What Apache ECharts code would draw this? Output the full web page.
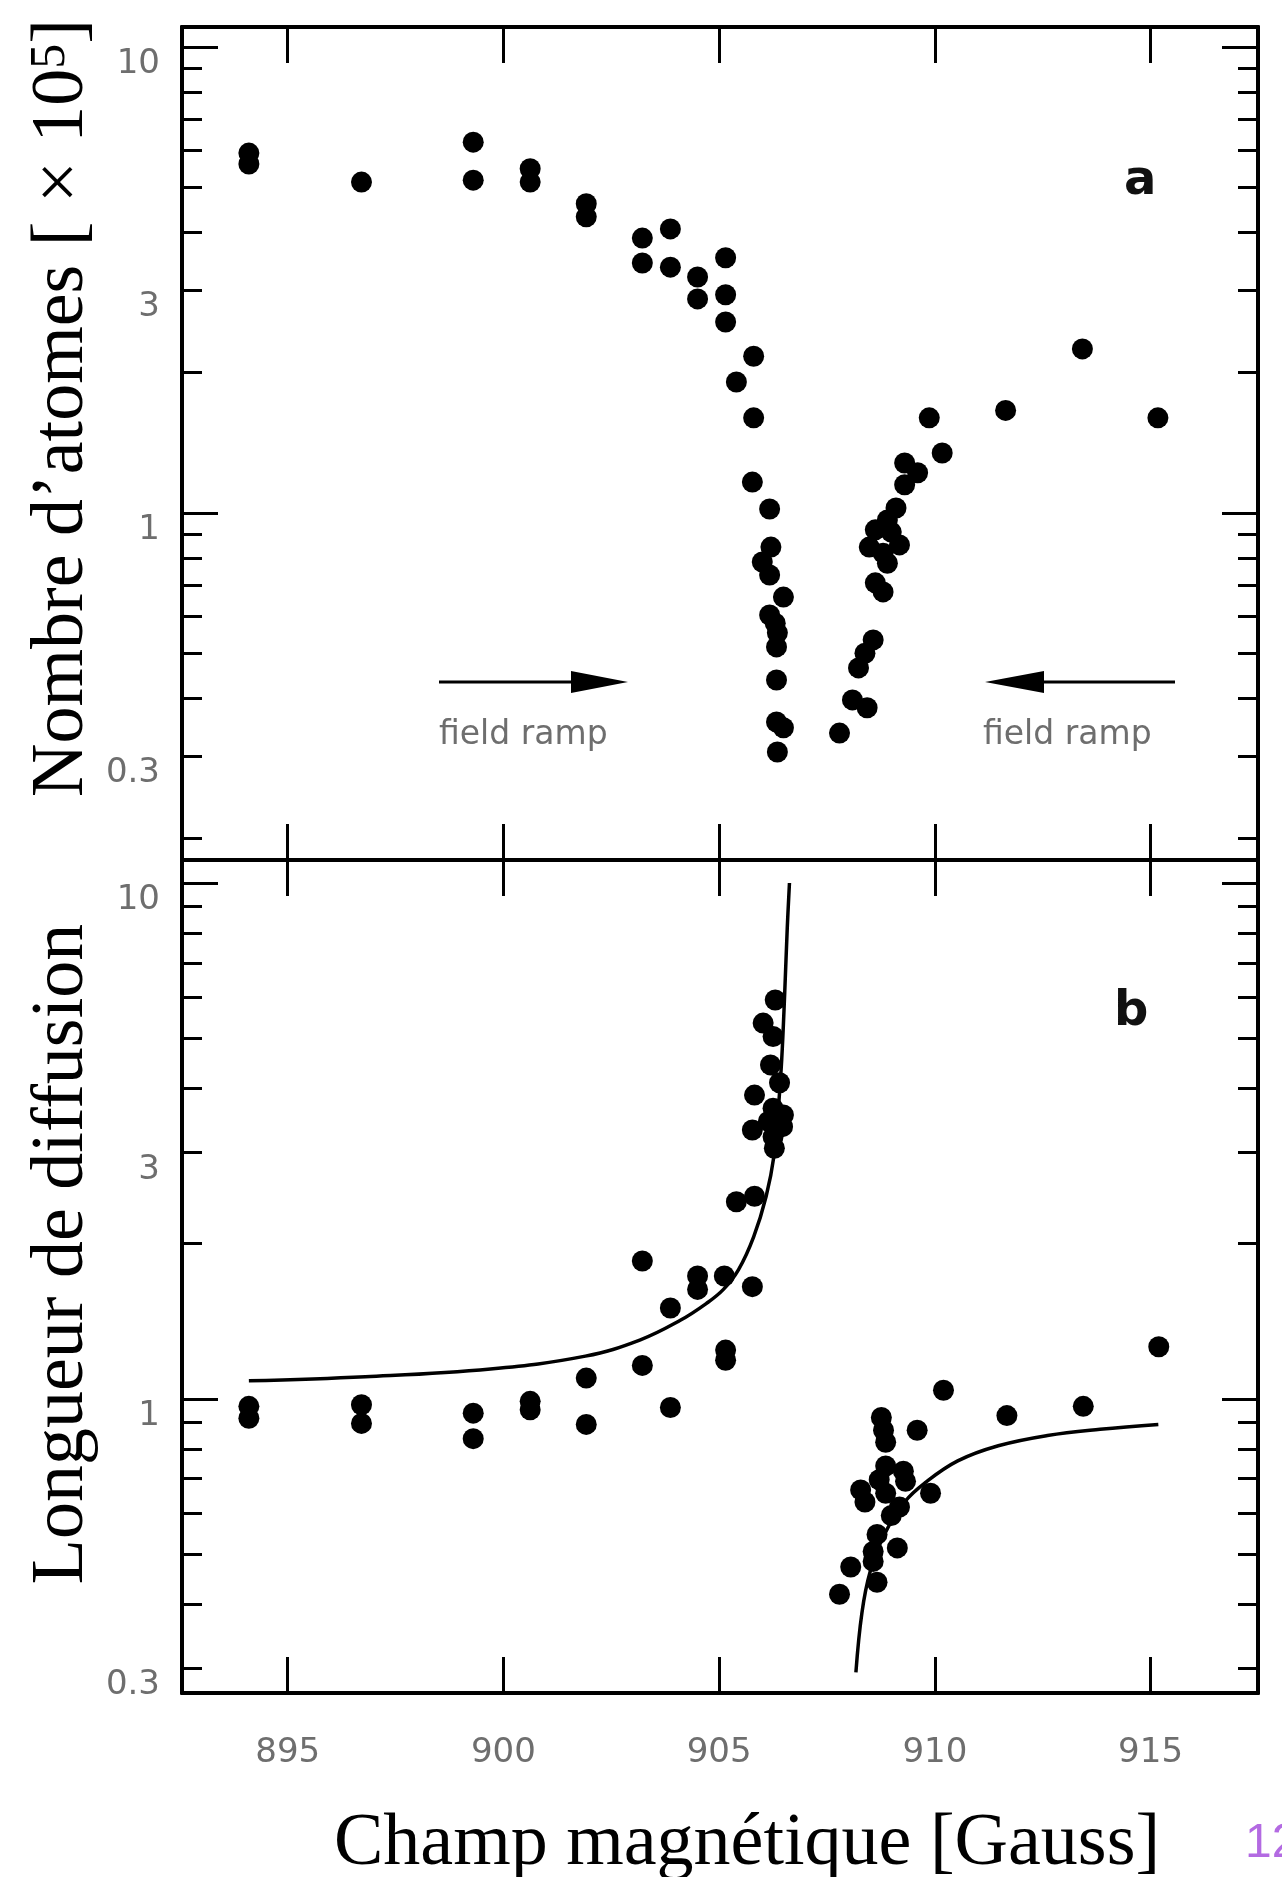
<!DOCTYPE html>
<html><head><meta charset="utf-8">
<script src="https://cdn.jsdelivr.net/npm/echarts@6/dist/echarts.min.js"></script>
<style>html,body{margin:0;padding:0;background:#fff}#c{width:1282px;height:1877px}</style>
</head><body><div id="c"></div>
<script>
// ---- data ----
const xTicks = [895, 900, 905, 910, 915];
const yLabels = [0.3, 1, 3, 10];
const yMajor = [1, 10];
const yMinorTop = [0.2,0.3,0.4,0.5,0.6,0.7,0.8,0.9,2,3,4,5,6,7,8,9];
const yMinorBot = [0.3,0.4,0.5,0.6,0.7,0.8,0.9,2,3,4,5,6,7,8,9];

// panel a : Nombre d'atomes
const aX = [894.1,894.1,896.71,899.3,899.3,900.62,900.62,901.92,901.92,903.22,903.22,903.87,903.87,904.5,904.5,905.15,905.15,905.15,905.8,905.4,905.8,905.77,906.17,906.2,906.0,906.17,906.49,906.17,906.3,906.35,906.33,906.33,906.33,906.49,906.35,907.79,908.09,908.43,908.23,908.38,908.57,908.62,908.8,908.9,908.8,908.48,909.18,908.62,908.99,908.9,909.1,909.3,909.6,909.3,910.17,909.87,911.64,913.42,915.17];
const aY = [5.92,5.61,5.13,6.25,5.18,5.48,5.13,4.61,4.32,3.89,3.44,4.07,3.37,3.21,2.88,3.53,2.94,2.57,2.17,1.91,1.60,1.165,1.02,0.845,0.785,0.736,0.66,0.604,0.58,0.553,0.516,0.438,0.356,0.346,0.307,0.337,0.397,0.382,0.465,0.50,0.534,0.708,0.677,0.78,0.82,0.845,0.854,0.92,0.91,0.966,1.025,1.15,1.22,1.28,1.345,1.60,1.66,2.25,1.60];

// panel b : Longueur de diffusion
const bX = [894.1,894.1,896.71,896.71,899.3,899.3,900.62,900.62,901.92,901.92,903.22,903.22,903.87,903.87,904.5,904.5,905.12,905.15,905.15,905.77,905.4,905.82,906.28,906.25,905.77,906.47,906.14,906.49,906.25,905.82,906.4,906.19,906.25,906.02,906.3,907.79,908.05,908.57,908.57,908.66,909.13,908.66,908.99,909.18,908.38,908.86,908.28,909.9,908.71,909.32,908.86,909.27,908.86,908.81,909.59,908.76,910.2,911.67,913.44,915.19];
const bY = [0.967,0.917,0.974,0.896,0.938,0.837,0.989,0.952,1.097,0.892,1.85,1.161,1.50,0.962,1.73,1.63,1.73,1.243,1.188,1.65,2.41,2.47,3.06,3.22,3.32,3.37,3.45,3.55,3.66,3.88,4.10,4.44,5.04,5.35,5.93,0.418,0.472,0.506,0.484,0.441,0.514,0.546,0.594,0.617,0.631,0.656,0.666,0.656,0.697,0.692,0.741,0.724,0.824,0.869,0.869,0.920,1.039,0.928,0.967,1.262];

// fitted curves
const fitLX = [894.1,896.8,899.7,901.9,903.16,904.1,904.7,905.1,905.45,905.8,906.09,906.28,906.37,906.45,906.52,906.58,906.63];
const fitLY = [1.084,1.104,1.143,1.21,1.30,1.42,1.53,1.63,1.78,2.06,2.47,2.99,3.63,4.54,6.12,8.22,10.0];
const fitRX = [908.17,908.31,908.5,908.83,909.3,909.77,910.53,911.47,912.61,913.83,915.18];
const fitRY = [0.295,0.385,0.462,0.546,0.631,0.687,0.758,0.811,0.849,0.873,0.892];

const pairs = (xs, ys) => xs.map((x, i) => [x, ys[i]]);

// ---- styling ----
const LBL = { color: '#6e6e6e', fontFamily: 'DejaVu Sans', fontSize: 34 };
const AXL = { show: true, lineStyle: { color: '#000', width: 4 } };
const XMIN = 892.55, XMAX = 917.49;

function xAx(grid, pos, labels) {
  return {
    type: 'value', gridIndex: grid, position: pos, min: XMIN, max: XMAX,
    axisLine: AXL, splitLine: { show: false },
    axisTick: { show: true, inside: true, length: 36, customValues: xTicks, lineStyle: { color: '#000', width: 3 } },
    axisLabel: labels ? Object.assign({ show: true, margin: 43, customValues: xTicks }, LBL) : { show: false }
  };
}
function yAx(grid, pos, min, max, ticks, len, labels) {
  return {
    type: 'log', logBase: 10, gridIndex: grid, position: pos, min: min, max: max, offset: 0,
    axisLine: AXL, splitLine: { show: false }, minorTick: { show: false },
    axisTick: { show: true, inside: true, length: len, customValues: ticks, lineStyle: { color: '#000', width: 3 } },
    axisLabel: labels ? Object.assign({
      show: true, margin: 22, customValues: yLabels, verticalAlign: 'top',
      formatter: v => String(Number((+v).toPrecision(3)))
    }, LBL) : { show: false }
  };
}

const chart = echarts.init(document.getElementById('c'), null, { renderer: 'canvas' });
const option = {
  backgroundColor: '#fff',
  animation: false,
  grid: [
    { left: 182, right: 24, top: 27, height: 833 },
    { left: 182, right: 24, top: 860, height: 833 }
  ],
  xAxis: [xAx(0, 'bottom', false), xAx(0, 'top', false), xAx(1, 'bottom', true), xAx(1, 'top', false)],
  yAxis: [
    yAx(0, 'left', 0.18, 11.04, yMajor, 36, true),
    yAx(0, 'left', 0.18, 11.04, yMinorTop, 20, false),
    yAx(0, 'right', 0.18, 11.04, yMajor, 36, false),
    yAx(0, 'right', 0.18, 11.04, yMinorTop, 20, false),
    yAx(1, 'left', 0.269, 11.08, yMajor, 36, true),
    yAx(1, 'left', 0.269, 11.08, yMinorBot, 20, false),
    yAx(1, 'right', 0.269, 11.08, yMajor, 36, false),
    yAx(1, 'right', 0.269, 11.08, yMinorBot, 20, false)
  ],
  series: [
    { type: 'scatter', xAxisIndex: 0, yAxisIndex: 0, data: pairs(aX, aY), symbol: 'circle', symbolSize: 21, itemStyle: { color: '#000', opacity: 1 } },
    { type: 'scatter', xAxisIndex: 2, yAxisIndex: 4, data: pairs(bX, bY), symbol: 'circle', symbolSize: 21, itemStyle: { color: '#000', opacity: 1 } },
    { type: 'line', xAxisIndex: 2, yAxisIndex: 4, data: pairs(fitLX, fitLY), smooth: 0.4, showSymbol: false, symbol: 'none', lineStyle: { color: '#000', width: 3.5 } },
    { type: 'line', xAxisIndex: 2, yAxisIndex: 4, data: pairs(fitRX, fitRY), smooth: 0.4, showSymbol: false, symbol: 'none', lineStyle: { color: '#000', width: 3.5 } }
  ],
  graphic: [
    // arrows
    { type: 'line', shape: { x1: 439, y1: 682, x2: 575, y2: 682 }, style: { stroke: '#000', lineWidth: 3 } },
    { type: 'polygon', shape: { points: [[571, 671], [628, 682], [571, 693]] }, style: { fill: '#000' } },
    { type: 'line', shape: { x1: 1040, y1: 682, x2: 1175, y2: 682 }, style: { stroke: '#000', lineWidth: 3 } },
    { type: 'polygon', shape: { points: [[1044, 671], [985, 682], [1044, 693]] }, style: { fill: '#000' } },
    { type: 'text', x: 439, y: 735, style: { text: 'field ramp', fill: '#6e6e6e', font: '33px "DejaVu Sans"', align: 'left', verticalAlign: 'middle' } },
    { type: 'text', x: 983, y: 735, style: { text: 'field ramp', fill: '#6e6e6e', font: '33px "DejaVu Sans"', align: 'left', verticalAlign: 'middle' } },
    // panel letters
    { type: 'text', x: 1124, y: 182, style: { text: 'a', fill: '#111', font: 'bold 48px "DejaVu Sans"', align: 'left', verticalAlign: 'middle' } },
    { type: 'text', x: 1114, y: 1013, style: { text: 'b', fill: '#111', font: 'bold 48px "DejaVu Sans"', align: 'left', verticalAlign: 'middle' } },
    // axis titles
    { type: 'text', x: 747, y: 1845, style: { text: 'Champ magnétique [Gauss]', fill: '#000', font: '74px "Liberation Serif"', align: 'center', verticalAlign: 'middle' } },
    { type: 'text', x: 63, y: 1254, rotation: Math.PI / 2, style: { text: 'Longueur de diffusion', fill: '#000', font: '74px "Liberation Serif"', align: 'center', verticalAlign: 'middle' } },
    { type: 'text', x: 63, y: 408, rotation: Math.PI / 2, style: {
        text: '{m|Nombre d’atomes [ × 10}{s|5}{m|]}', align: 'center', verticalAlign: 'middle',
        rich: {
          m: { fontFamily: 'Liberation Serif', fontSize: 74, lineHeight: 74, fill: '#000', color: '#000' },
          s: { fontFamily: 'Liberation Serif', fontSize: 50, lineHeight: 20, verticalAlign: 'top', fill: '#000', color: '#000' }
        } } },
    // page number
    { type: 'text', x: 1245, y: 1844, style: { text: '12', fill: '#b36ae2', font: '48px "Liberation Sans"', align: 'left', verticalAlign: 'middle' } }
  ]
};
chart.setOption(option);
</script>
</body></html>
